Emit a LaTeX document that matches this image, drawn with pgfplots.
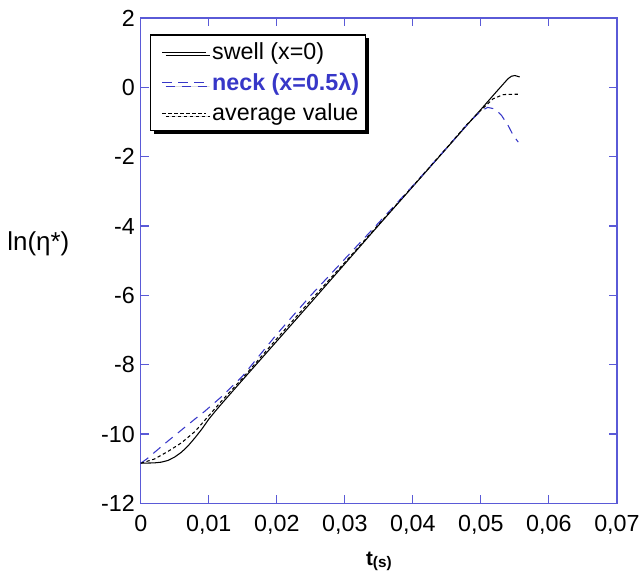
\documentclass[border=0pt]{standalone}
\usepackage{fontspec}
\setmainfont{Liberation Sans}
\usepackage{pgfplots}
\pgfplotsset{compat=1.18}
\usetikzlibrary{shadows}

\definecolor{axisblue}{RGB}{90,90,215}
\definecolor{neckblue}{RGB}{55,55,200}

\pgfplotstableread{
t v
0.0000 -10.84
0.0020 -10.83
0.0030 -10.81
0.0040 -10.76
0.0050 -10.66
0.0060 -10.52
0.0070 -10.33
0.0080 -10.10
0.0090 -9.85
0.0100 -9.57
0.0110 -9.33
0.0120 -9.10
0.0150 -8.43
0.0200 -7.32
0.0250 -6.21
0.0300 -5.09
0.0350 -3.97
0.0400 -2.86
0.0450 -1.75
0.0480 -1.08
0.0500 -0.64
0.0520 -0.19
0.0530 0.03
0.0535 0.14
0.0540 0.25
0.0545 0.32
0.0550 0.34
0.0557 0.30
}\swell

\pgfplotstableread{
t v
0.0000 -10.84
0.0010 -10.70
0.0020 -10.53
0.0040 -10.20
0.0060 -9.88
0.0080 -9.56
0.0093 -9.36
0.0120 -8.90
0.0150 -8.32
0.0200 -7.12
0.0250 -6.00
0.0300 -4.95
0.0350 -3.90
0.0400 -2.84
0.0450 -1.74
0.0480 -1.07
0.0500 -0.68
0.0510 -0.58
0.0520 -0.62
0.0530 -0.80
0.0540 -1.10
0.0548 -1.40
0.0555 -1.58
}\neck

\pgfplotstableread{
t v
0.0000 -10.84
0.0020 -10.72
0.0040 -10.50
0.0060 -10.25
0.0080 -9.92
0.0100 -9.47
0.0120 -9.02
0.0150 -8.38
0.0200 -7.25
0.0250 -6.14
0.0300 -5.05
0.0400 -2.85
0.0450 -1.74
0.0480 -1.06
0.0500 -0.66
0.0518 -0.33
0.0533 -0.21
0.0547 -0.20
0.0556 -0.20
}\average

\begin{document}
\begin{tikzpicture}
\begin{axis}[
    scale only axis,
    width=358pt, height=365pt,
    xmin=0, xmax=0.07, ymin=-12, ymax=2,
    scaled x ticks=false,
    xtick={0,0.01,...,0.07},
    xticklabels={0,{0,01},{0,02},{0,03},{0,04},{0,05},{0,06},{0,07}},
    ytick={-12,-10,...,2},
    yticklabels={-12,-10,-8,-6,-4,-2,0,2},
    tick pos=both, tick align=inside,
    major tick length=6pt,
    axis line style={axisblue, line width=1pt},
    every tick/.style={axisblue, line width=0.9pt},
    tick label style={font=\fontsize{17.5}{19}\selectfont, black},
    xticklabel style={yshift=-5pt},
    yticklabel style={xshift=-1pt},
    xlabel={\textbf{t}\raisebox{-2pt}{\fontsize{11.5}{13}\selectfont\textbf{(s)}}},
    xlabel style={at={(rel axis cs:0.5,-0.09)}, anchor=north, font=\fontsize{15.5}{17}\selectfont},
    ylabel={ln(η*)},
    ylabel style={rotate=-90, at={(rel axis cs:-0.29,0.535)}, anchor=west, font=\fontsize{19.5}{21}\selectfont},
    legend style={at={(rel axis cs:0.019,0.966)}, anchor=north west,
        draw=black, line width=0.9pt, fill=white,
        drop shadow={shadow xshift=2.5pt, shadow yshift=-2.5pt, fill=black, opacity=1},
        font=\fontsize{17.5}{21}\selectfont, inner xsep=3pt, inner ysep=4pt,
        row sep=4.5pt},
    legend cell align=left,
    legend image code/.code={\path (0cm,0cm); \draw[#1, line width=0.8pt] (0.2cm,0cm) -- (1.36cm,0cm);},
    clip=false,
]
\path (rel axis cs:-0.2956,-0.1335) rectangle (rel axis cs:1.0545,1.037);
\addplot[black, line width=0.8pt] table[x=t, y=v] {\swell};
\addlegendentry{\hspace*{2pt}swell (x=0)}
\addplot[neckblue, line width=0.8pt, dash pattern=on 7pt off 5pt] table[x=t, y=v] {\neck};
\addlegendentry{\hspace*{2pt}\textcolor{neckblue}{\textbf{neck (x=0.5λ)}}}
\addplot[black, line width=0.8pt, dash pattern=on 2.5pt off 2pt] table[x=t, y=v] {\average};
\addlegendentry{\hspace*{2pt}average value}
\end{axis}
\end{tikzpicture}
\end{document}
